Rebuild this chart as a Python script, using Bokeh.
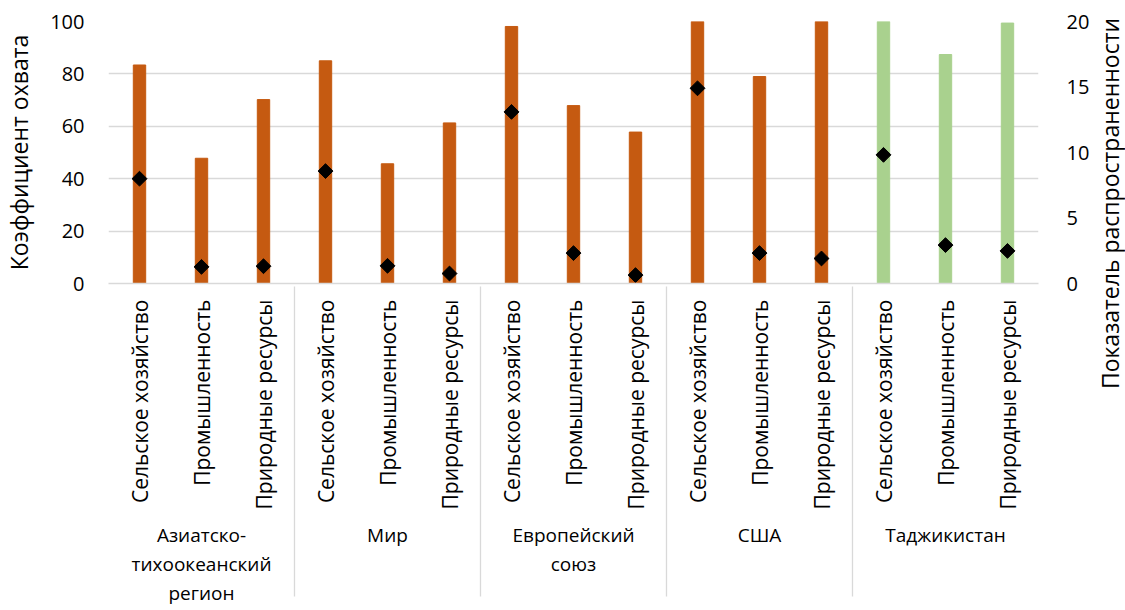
import math
from bokeh.plotting import figure
from bokeh.layouts import row
from bokeh.models import (FactorRange, Range1d, LinearAxis, ColumnDataSource, FixedTicker)
from bokeh.core.properties import value
from bokeh.embed import file_html
from bokeh.resources import INLINE

# ---- data ----
regions = ["Азиатско-\nтихоокеанский\nрегион", "Мир", "Европейский\nсоюз", "США", "Таджикистан"]
sectors = ["Сельское хозяйство", "Промышленность", "Природные ресурсы"]
coverage = [83.4, 47.8, 70.2,
            85.0, 45.7, 61.3,
            98.1, 67.9, 57.8,
            100.0, 79.0, 100.0,
            100.0, 87.4, 99.4]
prevalence = [8.0, 1.27, 1.32,
              8.58, 1.35, 0.76,
              13.1, 2.32, 0.64,
              14.9, 2.32, 1.91,
              9.82, 2.93, 2.49]
region_colors = ["#C55A11", "#C55A11", "#C55A11", "#C55A11", "#A9D18E"]
left_ticks = [0, 20, 40, 60, 80, 100]
right_ticks = [0, 5, 10, 15, 20]
left_title = "Коэффициент охвата"
right_title = "Показатель распространенности"

FONT = "Open Sans"
GRID = "#D9D9D9"

factors = [(r, s) for r in regions for s in sectors]
colors = [c for c in region_colors for _ in sectors]
src = ColumnDataSource(dict(x=factors, top=coverage, prev=prevalence, color=colors))

p = figure(width=1092, height=610,
           x_range=FactorRange(*factors, range_padding=0, group_padding=0, factor_padding=0),
           y_range=Range1d(0, 100),
           output_backend="svg", toolbar_location=None,
           min_border_left=103, min_border_right=52, min_border_top=21, min_border_bottom=327)
p.frame_align = False
p.extra_y_ranges = {"right": Range1d(0, 20)}
p.outline_line_color = None
p.background_fill_color = "white"

p.vbar(x="x", top="top", width=0.2, fill_color="color", line_color="color", source=src)
p.scatter(x="x", y="prev", y_range_name="right", marker="square", angle=math.pi / 4,
          size=10.5, fill_color="black", line_color="black", source=src)

# grid
p.xgrid.grid_line_color = None
p.ygrid.grid_line_color = GRID
p.ygrid.grid_line_width = 1.3
p.yaxis.ticker = FixedTicker(ticks=left_ticks)

# left axis
ya = p.yaxis[0]
ya.axis_line_color = None
ya.major_tick_line_color = None
ya.minor_tick_line_color = None
ya.major_label_text_font = FONT
ya.major_label_text_font_size = "20px"
ya.major_label_text_color = "#000000"
ya.major_label_standoff = 18
ya.axis_label = left_title
ya.axis_label_text_font = FONT
ya.axis_label_text_font_size = "23px"
ya.axis_label_text_font_style = "normal"
ya.axis_label_text_color = "#000000"
ya.axis_label_standoff = 12

# right axis (ticks)
ra = LinearAxis(y_range_name="right", ticker=FixedTicker(ticks=right_ticks),
                major_label_standoff=22)
ra.axis_line_color = None
ra.major_tick_line_color = None
ra.minor_tick_line_color = None
ra.major_label_text_font = FONT
ra.major_label_text_font_size = "20px"
ra.major_label_text_color = "#000000"
p.add_layout(ra, "right")

# x axis
xa = p.xaxis[0]
xa.axis_line_color = GRID
xa.axis_line_width = 1.3
xa.major_tick_line_color = None
xa.minor_tick_line_color = None
xa.major_label_orientation = math.pi / 2
xa.major_label_text_font = FONT
xa.major_label_text_font_size = "21px"
xa.major_label_text_color = "#000000"
xa.major_label_standoff = 10
xa.group_label_orientation = "horizontal"
xa.group_text_font = FONT
xa.group_text_font_size = "19px"
xa.group_text_font_style = "normal"
xa.group_text_color = "#000000"
xa.group_text_line_height = 1.1
xa.separator_line_color = GRID
xa.separator_line_width = 1.3

# narrow side panel holding the right axis title (reads bottom to top)
t = figure(width=33, height=610, x_range=Range1d(0, 33), y_range=Range1d(0, 610),
           output_backend="svg", toolbar_location=None, min_border=0)
t.frame_align = False
t.axis.visible = False
t.grid.grid_line_color = None
t.outline_line_color = None
t.text(x=[17], y=[407], text=[right_title], angle=math.pi / 2,
       text_align="center", text_baseline="middle",
       text_font=value(FONT), text_font_size="23px", text_color="#000000")

layout = row(p, t, spacing=0)
open("out.html", "w").write(file_html(layout, INLINE))
